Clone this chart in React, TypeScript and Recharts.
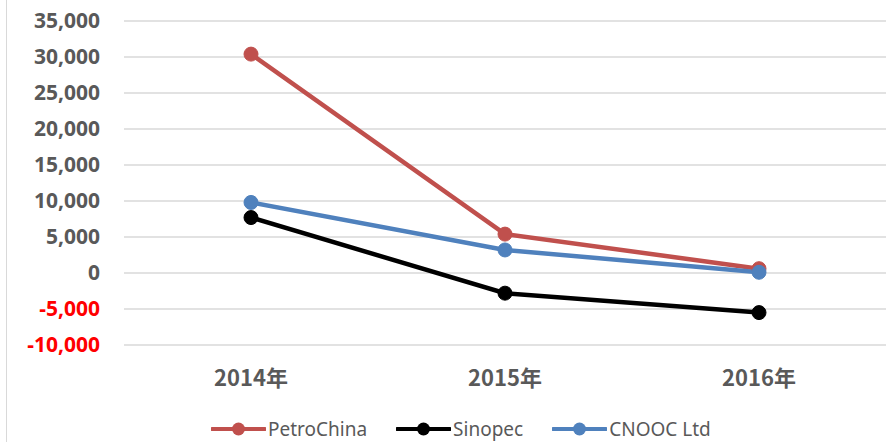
import React from "react";
import { LineChart, Line, XAxis, YAxis, CartesianGrid } from "recharts";

const years = ["2014年", "2015年", "2016年"];
const petroChina = [30400, 5400, 600];
const sinopec = [7700, -2800, -5500];
const cnooc = [9800, 3200, 100];
const yTicks = [-10000, -5000, 0, 5000, 10000, 15000, 20000, 25000, 30000, 35000];

const SERIES = [
  { key: "PetroChina", color: "#C0504D" },
  { key: "Sinopec", color: "#000000" },
  { key: "CNOOC Ltd", color: "#4F81BD" },
];

const data = years.map((year, i) => ({
  year,
  PetroChina: petroChina[i],
  Sinopec: sinopec[i],
  "CNOOC Ltd": cnooc[i],
}));

const FONT = "'Noto Sans', 'Liberation Sans', sans-serif";

const YTick = (props: any) => {
  const { x, y, payload } = props;
  const v = payload.value as number;
  return (
    <text
      x={x}
      y={y}
      dy={7}
      textAnchor="end"
      fontFamily={FONT}
      fontSize={21}
      fontWeight="bold"
      fill={v < 0 ? "#FF0000" : "#595959"}
    >
      {v.toLocaleString("en-US")}
    </text>
  );
};

const XTick = (props: any) => {
  const { x, y, payload } = props;
  return (
    <text
      x={x}
      y={y}
      dy={17}
      textAnchor="middle"
      fontFamily="'Noto Sans CJK SC', sans-serif"
      fontSize={22}
      fontWeight="bold"
      fill="#595959"
    >
      {payload.value}
    </text>
  );
};

// legend: line-with-dot marker followed by the series name
const LegendBox = () => (
  <div
    style={{
      position: "absolute",
      left: 211,
      top: 416,
      height: 26,
      display: "flex",
      alignItems: "center",
      gap: 29,
    }}
  >
    {SERIES.map((s) => (
      <div key={s.key} style={{ display: "flex", alignItems: "center" }}>
        <svg width={55} height={16}>
          <line x1={1} y1={8} x2={54} y2={8} stroke={s.color} strokeWidth={4} strokeLinecap="round" />
          <circle cx={27.5} cy={8} r={6.5} fill={s.color} />
        </svg>
        <span style={{ fontFamily: FONT, fontSize: 19, lineHeight: "24px", color: "#595959", marginLeft: 2 }}>
          {s.key}
        </span>
      </div>
    ))}
  </div>
);

export default function App() {
  return (
    <div style={{ position: "absolute", left: 0, top: 0, width: 895, height: 442, background: "#fff", overflow: "hidden" }}>
      <div style={{ position: "absolute", left: 6, top: 0, width: 1, height: 442, background: "#D9D9D9" }} />
      <LineChart
        width={895}
        height={442}
        data={data}
        margin={{ top: 21, right: 9, left: 6, bottom: 25 }}
      >
        <CartesianGrid vertical={false} stroke="#D9D9D9" strokeWidth={1.5} />
        <XAxis
          dataKey="year"
          axisLine={false}
          tickLine={false}
          tickSize={0}
          tickMargin={24}
          tick={<XTick />}
          height={72}
          padding={{ left: 127, right: 127 }}
        />
        <YAxis
          domain={[-10000, 35000]}
          ticks={yTicks}
          axisLine={false}
          tickLine={false}
          tickSize={0}
          tickMargin={24}
          tick={<YTick />}
          width={118}
          interval={0}
        />
        {SERIES.map((s) => (
          <Line
            key={s.key}
            dataKey={s.key}
            stroke={s.color}
            strokeWidth={4.5}
            dot={{ r: 7, fill: s.color, stroke: s.color, strokeWidth: 1 }}
            isAnimationActive={false}
          />
        ))}
      </LineChart>
      <LegendBox />
    </div>
  );
}
